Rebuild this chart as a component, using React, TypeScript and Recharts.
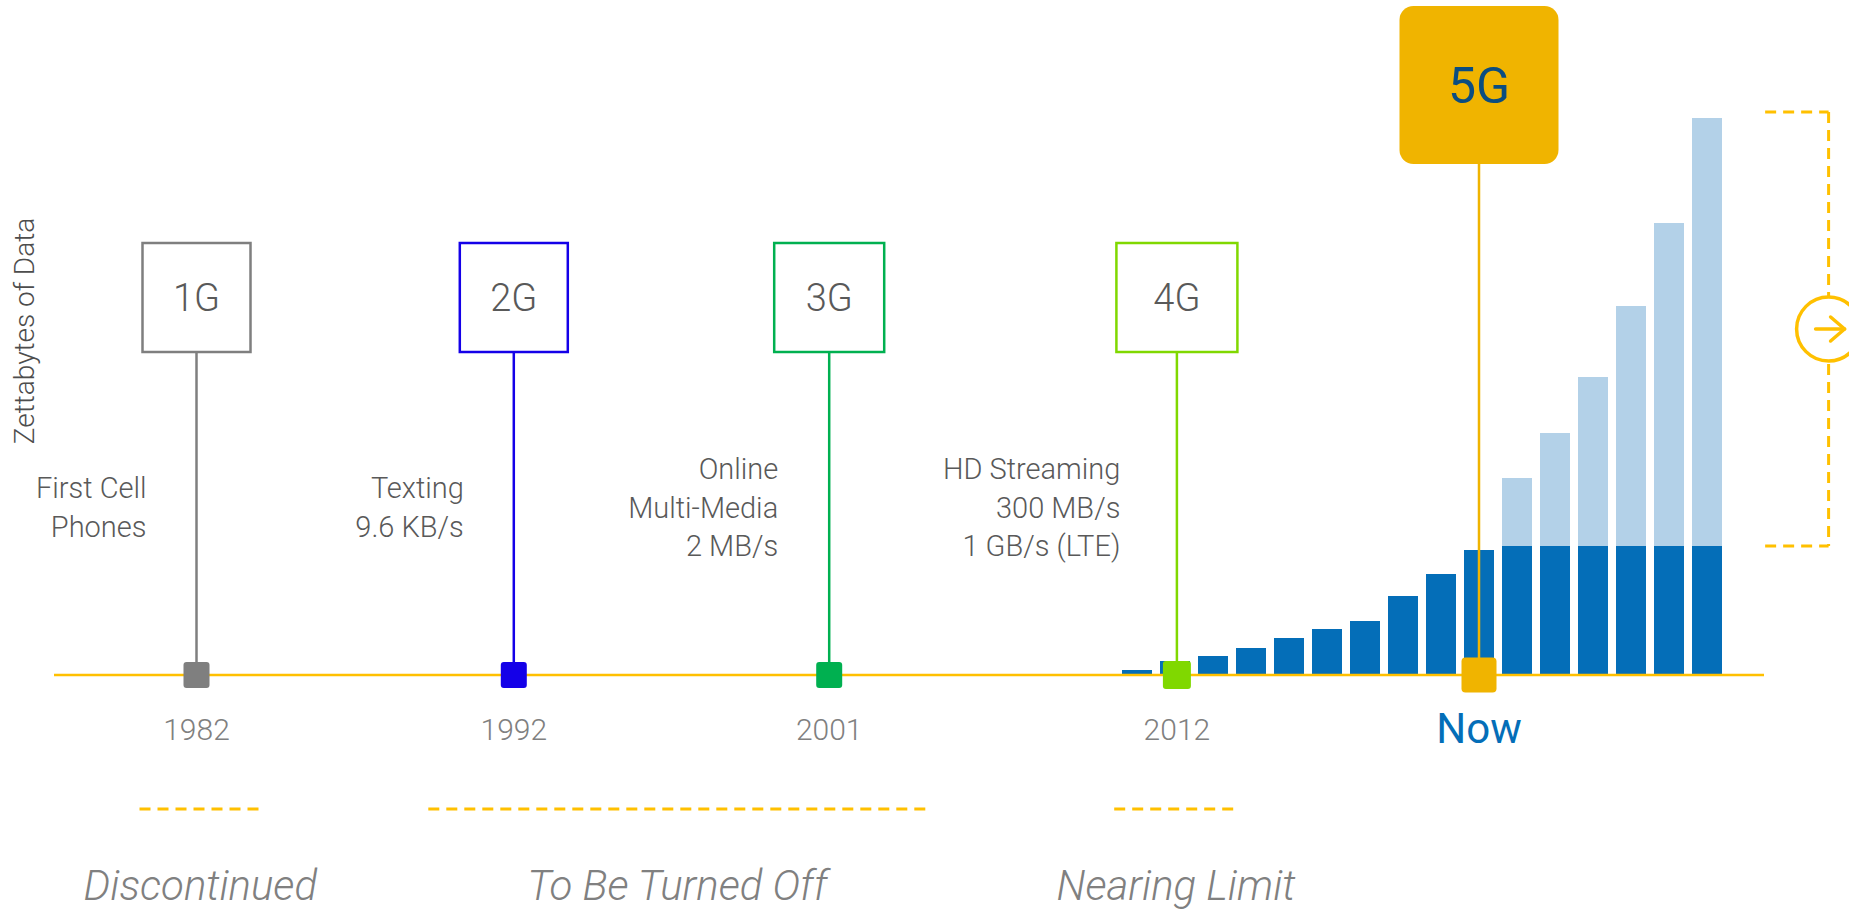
import {
  ComposedChart,
  Bar,
  XAxis,
  YAxis,
  ReferenceLine,
  ReferenceDot,
  Customized,
} from "recharts";

// bars: one slot per year, dark = today's traffic, light = projected growth on top
const barSlots = [0, 1, 2, 3, 4, 5, 6, 7, 8, 9, 10, 11, 12, 13, 14, 15];
const currentData = [0.5, 1.4, 1.9, 2.7, 3.7, 4.6, 5.4, 7.9, 10.1, 12.5, 12.9, 12.9, 12.9, 12.9, 12.9, 12.9];
const projectedData = [0, 0, 0, 0, 0, 0, 0, 0, 0, 0, 6.8, 11.3, 16.9, 24.0, 32.3, 42.8];

// generations along the timeline
const genNames = ["1G", "2G", "3G", "4G", "5G"];
const genYears = ["1982", "1992", "2001", "2012", "Now"];
const genSlots = [-24.75, -16.4, -8.1, 1.05, 9];
const genNotes = [
  ["First Cell", "Phones"],
  ["Texting", "9.6 KB/s"],
  ["Online", "Multi-Media", "2 MB/s"],
  ["HD Streaming", "300 MB/s", "1 GB/s (LTE)"],
  [],
];

// status bands under the timeline
const statusLabels = ["Discontinued", "To Be Turned Off", "Nearing Limit"];
const statusFrom = [-26.25, -18.65, -0.6];
const statusTo = [-23.05, -5.55, 2.65];

const YELLOW = "#FFC000";
const DARK_BLUE = "#046EB8";
const LIGHT_BLUE = "#B3D1E8";

const GEN_STYLE = [
  { color: "#7F7F7F", boxWidth: 108, marker: 26 },
  { color: "#1400E8", boxWidth: 108, marker: 26 },
  { color: "#00B050", boxWidth: 110, marker: 26 },
  { color: "#80D800", boxWidth: 121, marker: 28 },
  { color: "#F0B400", boxWidth: 159, marker: 35 },
];

const chartData = barSlots.map((slot, i) => ({
  slot,
  current: currentData[i],
  projected: projectedData[i],
}));

const capValue = Math.max(...currentData);
const topValue = Math.max(...currentData.map((v, i) => v + projectedData[i])) + 0.6;
const bracketStart = 16.53;
const bracketEdge = 18.2;

function GenMark({ cx, cy, index }: any) {
  const style = GEN_STYLE[index];
  const isNow = index === genNames.length - 1;
  const boxHeight = isNow ? 158 : 109;
  const boxTop = cy - (isNow ? 669 : 432);
  const boxLeft = cx - style.boxWidth / 2;
  const notes = genNotes[index];
  const m = style.marker;

  return (
    <g>
      <line x1={cx} x2={cx} y1={boxTop + boxHeight} y2={cy} stroke={style.color} strokeWidth={2.5} />
      <rect
        x={boxLeft}
        y={boxTop}
        width={style.boxWidth}
        height={boxHeight}
        rx={isNow ? 14 : 0}
        fill={isNow ? style.color : "#fff"}
        stroke={isNow ? "none" : style.color}
        strokeWidth={2.5}
      />
      <text
        x={cx}
        y={boxTop + boxHeight / 2 + (isNow ? 17.5 : 13.5)}
        textAnchor="middle"
        fontSize={isNow ? 50 : 38}
        fontWeight={isNow ? 400 : 300}
        fill={isNow ? "#0B4D80" : "#595959"}
      >
        {genNames[index]}
      </text>
      {notes.map((line, j) => (
        <text
          key={line}
          x={boxLeft + 4}
          y={cy - 157.5 + (j - (notes.length - 1) / 2) * 38.7}
          textAnchor="end"
          fontSize={29}
          fontWeight={300}
          fill="#595959"
        >
          {line}
        </text>
      ))}
      <rect x={cx - m / 2} y={cy - m / 2} width={m} height={m} rx={isNow ? 4 : 3} fill={style.color} />
      <text
        x={cx}
        y={cy + (isNow ? 68 : 65)}
        textAnchor="middle"
        fontSize={isNow ? 42 : 30}
        fontWeight={isNow ? 400 : 300}
        fill={isNow ? DARK_BLUE : "#808080"}
      >
        {genYears[index]}
      </text>
    </g>
  );
}

function ArrowCircle({ cx, cy }: any) {
  return (
    <g stroke={YELLOW} strokeWidth={3.5} strokeLinecap="round" strokeLinejoin="round">
      <circle cx={cx} cy={cy} r={32} fill="#fff" />
      <line x1={cx - 13} x2={cx + 16} y1={cy} y2={cy} />
      <polyline points={`${cx + 2},${cy - 12} ${cx + 16},${cy} ${cx + 2},${cy + 12}`} fill="none" />
    </g>
  );
}

export default function App() {
  return (
    <div style={{ position: "absolute", left: 0, top: 0, fontFamily: "Roboto, sans-serif" }}>
      <ComposedChart
        width={1849}
        height={913}
        data={chartData}
        margin={{ top: 75, right: 85, bottom: 0, left: 54 }}
      >
        <XAxis type="number" dataKey="slot" domain={[-28.5, 16.5]} allowDataOverflow hide />
        <YAxis type="number" domain={[-23.8, 60]} allowDataOverflow hide />

        <Bar dataKey="current" stackId="traffic" fill={DARK_BLUE} barSize={30} isAnimationActive={false} />
        <Bar dataKey="projected" stackId="traffic" fill={LIGHT_BLUE} barSize={30} isAnimationActive={false} />

        {/* timeline */}
        <ReferenceLine y={0} stroke={YELLOW} strokeWidth={2.5} />

        {/* forecast bracket */}
        <ReferenceLine
          segment={[{ x: bracketStart, y: topValue }, { x: bracketEdge, y: topValue }]}
          stroke={YELLOW}
          strokeWidth={3}
          strokeDasharray="11 7"
          ifOverflow="visible"
        />
        <ReferenceLine
          segment={[{ x: bracketEdge, y: topValue }, { x: bracketEdge, y: capValue }]}
          stroke={YELLOW}
          strokeWidth={3}
          strokeDasharray="11 7"
          ifOverflow="visible"
        />
        <ReferenceLine
          segment={[{ x: bracketStart, y: capValue }, { x: bracketEdge, y: capValue }]}
          stroke={YELLOW}
          strokeWidth={3}
          strokeDasharray="11 7"
          ifOverflow="visible"
        />
        <ReferenceDot
          x={bracketEdge}
          y={(topValue + capValue) / 2}
          ifOverflow="visible"
          shape={(p: any) => <ArrowCircle {...p} />}
        />

        {/* status bands */}
        {statusLabels.map((label, i) => (
          <ReferenceLine
            key={label}
            segment={[{ x: statusFrom[i], y: -13.4 }, { x: statusTo[i], y: -13.4 }]}
            stroke={YELLOW}
            strokeWidth={3}
            strokeDasharray="11 7"
            ifOverflow="visible"
            label={{
              value: label,
              position: "bottom",
              offset: 61,
              fill: "#808080",
              fontSize: 42,
              fontStyle: "italic",
              fontWeight: 300,
            }}
          />
        ))}

        {/* generation markers */}
        {genNames.map((name, i) => (
          <ReferenceDot
            key={name}
            x={genSlots[i]}
            y={0}
            ifOverflow="visible"
            shape={(p: any) => <GenMark {...p} index={i} />}
          />
        ))}

        <Customized
          component={() => (
            <text
              x={34}
              y={331}
              transform="rotate(-90, 34, 331)"
              textAnchor="middle"
              fontSize={28}
              fontWeight={300}
              fill="#4D4D4D"
            >
              Zettabytes of Data
            </text>
          )}
        />
      </ComposedChart>
    </div>
  );
}
